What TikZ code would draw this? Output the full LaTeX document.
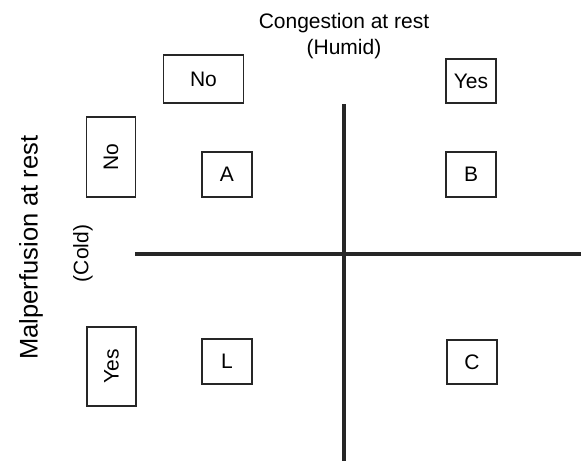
\documentclass[tikz,border=0pt]{standalone}
\usepackage{fontspec}
\setmainfont{Liberation Sans}
\begin{document}
\begin{tikzpicture}[x=1pt,y=-1pt,
  lbl/.style={font=\fontsize{21}{26}\selectfont, inner sep=0pt},
  box/.style={draw=black!85, line width=1.4pt, inner sep=0pt, font=\fontsize{21}{26}\selectfont},
  axis/.style={draw=black!85, line width=4pt}]
\useasboundingbox (0,0) rectangle (581,461);
% titles
\node[lbl, align=center] (cong) at (344,36) {Congestion at rest\\(Humid)};
\node[font=\fontsize{25.5}{30}\selectfont, inner sep=0pt, rotate=90] (malp) at (31,247.5) {Malperfusion at rest};
\node[lbl, rotate=90] (cold) at (83,253.5) {(Cold)};
% boxes
\node[box, minimum width=80pt, minimum height=48pt] (notop) at (203.5,79) {No};
\node[box, minimum width=50pt, minimum height=44pt] (yestop) at (471,81) {Yes};
\node[box, minimum width=49pt, minimum height=80pt] (noleft) at (111,157) {\rotatebox{90}{No}};
\node[box, minimum width=49pt, minimum height=79pt] (yesleft) at (111.5,366.5) {\rotatebox{90}{Yes}};
\node[box, minimum width=50pt, minimum height=45pt] (A) at (227,174.5) {A};
\node[box, minimum width=50pt, minimum height=45pt] (B) at (471,174.5) {B};
\node[box, minimum width=50pt, minimum height=45pt] (L) at (227,361.5) {L};
\node[box, minimum width=50pt, minimum height=44pt] (C) at (472,362) {C};
% axes
\coordinate (vtop) at (344,104);
\coordinate (vbot) at (344,461);
\coordinate (hl) at (135,254);
\coordinate (hr) at (581,254);
\draw[axis] (vtop) -- (vbot);
\draw[axis] (hl) -- (hr);
\end{tikzpicture}
\end{document}
